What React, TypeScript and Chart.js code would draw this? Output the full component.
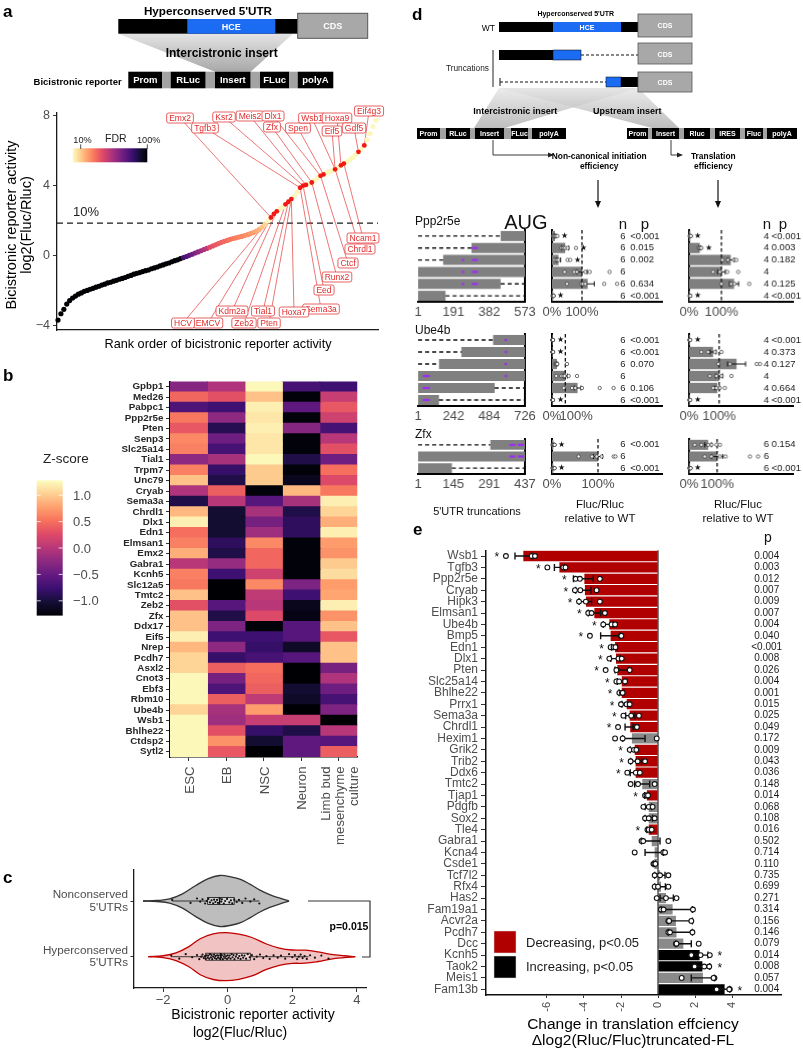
import React, { useEffect, useRef } from 'react';
import { Chart, registerables } from 'chart.js';

Chart.register(...registerables);

const FONT = '"Liberation Sans", Arial, Helvetica, sans-serif';
const AX = '#4d4d4d';

// ================= Panel a data =================
const rankActivity = [
  -3.66, -3.30, -3.05, -2.75, -2.55, -2.40, -2.29, -2.18, -2.11, -2.02,
  -1.97, -1.90, -1.85, -1.78, -1.73, -1.66, -1.61, -1.54, -1.50, -1.44,
  -1.39, -1.33, -1.28, -1.23, -1.16, -1.11, -1.04, -0.99, -0.95, -0.89,
  -0.84, -0.80, -0.73, -0.68, -0.63, -0.56, -0.51, -0.45, -0.40, -0.33,
  -0.27, -0.22, -0.15, -0.09, -0.03, 0.04, 0.10, 0.17, 0.23, 0.30,
  0.37, 0.43, 0.50, 0.57, 0.64, 0.71, 0.78, 0.84, 0.89, 0.95,
  1.00, 1.04, 1.08, 1.12, 1.17, 1.22, 1.28, 1.34, 1.42, 1.52,
  1.65, 1.82, 2.00, 2.20, 2.40, 2.55, 2.68, 2.80, 2.95, 3.10,
  3.25, 3.42, 3.65, 3.90, 4.02, 4.06, 4.12, 4.20, 4.32, 4.48,
  4.58, 4.66, 4.75, 4.82, 4.88, 4.95, 5.05, 5.18, 5.28, 5.38,
  5.50, 5.62, 5.78, 5.95, 6.10, 6.32, 6.65, 7.00, 7.40, 7.75,
];
const fdrThreshold = 1.88;
const aYTicks = [-4, 0, 4, 8];
const labelGenes = ['Emx2', 'Tgfb3', 'Ksr2', 'Meis2', 'Zfx', 'Dlx1', 'Spen', 'Wsb1', 'Eif5', 'Hoxa9', 'Gdf5', 'Eif4g3',
  'Ncam1', 'Chrdl1', 'Ctcf', 'Runx2', 'Eed', 'Sema3a', 'Hoxa7', 'Pten', 'Tial1', 'Zeb2', 'Kdm2a', 'EMCV', 'HCV'];
const labelRanks = [74, 84, 85, 86, 88, 91, 92, 96, 96, 98, 104, 106, 99, 96, 91, 88, 85, 84, 81, 81, 80, 79, 76, 75, 74];
// layout of the label boxes (page pixels)
const labelPos = [[180, 118], [205, 128], [224, 117], [250, 116], [272, 127], [273, 116], [298, 128], [312, 118], [332, 131],
  [337, 118], [354, 128], [369, 111], [363, 238], [360, 249], [348, 263], [337, 277], [324, 290], [321, 309], [294, 312],
  [269, 323], [263, 311], [244, 323], [232, 311], [208, 323], [183, 323]];

// ================= Panel b data =================
const heatGenes = ['Gpbp1', 'Med26', 'Pabpc1', 'Ppp2r5e', 'Pten', 'Senp3', 'Slc25a14', 'Tial1', 'Trpm7', 'Unc79', 'Cryab',
  'Sema3a', 'Chrdl1', 'Dlx1', 'Edn1', 'Elmsan1', 'Emx2', 'Gabra1', 'Kcnh5', 'Slc12a5', 'Tmtc2', 'Zeb2', 'Zfx', 'Ddx17',
  'Eif5', 'Nrep', 'Pcdh7', 'Asxl2', 'Cnot3', 'Ebf3', 'Rbm10', 'Ube4b', 'Wsb1', 'Bhlhe22', 'Ctdsp2', 'Sytl2'];
const cellTypes = ['ESC', 'EB', 'NSC', 'Neuron', 'Limb bud mesenchyme culture'];
const zESC = [-0.3, 0.45, -0.65, 0.55, 0.35, 0.65, 0.6, -0.25, 0.6, 0.95, -0.05, -0.95, 0.9, 1.2, 0.5, 0.6, 0.85, 0.0,
  0.6, 0.55, 0.95, 0.3, 0.95, 0.95, 1.2, 0.9, 1.05, 1.05, 1.25, 1.25, 1.25, 1.05, 1.25, 1.25, 1.25, 1.25];
const zEB = [-0.05, 0.3, -0.75, -0.25, -0.9, -0.45, -0.7, -0.1, -0.8, -0.95, 0.4, 0.0, -1.05, -1.05, -1.05, -0.85, -0.95,
  -0.2, -0.75, -1.28, -1.28, -0.6, -0.95, -0.35, -0.75, -0.25, -0.8, 0.4, -0.4, -0.65, 0.4, -0.1, -0.15, 0.3, 0.7, 0.35];
const zNSC = [1.25, 0.95, 1.2, 1.15, 1.2, 1.15, 1.15, 1.25, 1.0, 1.0, -1.25, -0.6, -0.1, -0.4, -0.15, 0.65, 0.45, 0.45,
  0.15, 0.65, 0.05, 0.0, 0.25, -1.25, -0.75, -0.8, -0.7, 0.5, 0.45, 0.4, 0.05, 0.75, 0.1, -0.8, -1.05, -1.28];
const zNeuron = [-0.7, -1.25, -0.55, -1.25, -0.3, -1.25, -1.25, -0.95, -1.25, -1.15, 0.9, -0.1, -0.95, -0.85, -0.85, -1.25,
  -1.25, -1.25, -1.25, -0.35, -0.75, -1.15, -1.2, -0.6, -0.6, -1.1, -0.6, -1.28, -1.28, -1.05, -1.1, -1.28, 0.1, -0.95, -0.55, -0.55];
const zLimb = [-0.75, 0.1, 0.35, 0.15, -0.7, 0.0, 0.3, -0.45, 0.5, 0.25, 0.55, 1.2, 1.05, 0.85, 1.2, 0.75, 0.7, 1.0, 1.1,
  0.75, 0.8, 1.2, 0.7, 0.95, 0.35, 0.95, 0.95, -0.4, -0.05, -0.45, -0.7, -0.35, -1.28, 0.0, -0.6, 0.4];
const zLegendTicks = [1.0, 0.5, 0.0, -0.5, -1.0];

// ================= Panel c data =================
const cGroups = ['Hyperconserved', 'Nonconserved'];
const nonViolinX = [-2.62, -2.2, -1.8, -1.4, -1.0, -0.6, -0.25, 0.1, 0.4, 0.7, 1.0, 1.3, 1.6, 1.9];
const nonViolinW = [0, 0.02, 0.08, 0.28, 0.6, 0.88, 1.0, 0.95, 0.85, 0.65, 0.43, 0.25, 0.12, 0];
const hypViolinX = [-2.46, -2.0, -1.6, -1.2, -0.85, -0.45, -0.05, 0.35, 0.75, 1.2, 1.6, 2.0, 2.4, 2.8, 3.2, 3.6, 3.95];
const hypViolinW = [0, 0.04, 0.16, 0.42, 0.75, 0.95, 1.0, 0.94, 0.8, 0.53, 0.36, 0.28, 0.27, 0.2, 0.1, 0.04, 0];
const nonPointsX = [-1.72, -1.15, -0.95, -0.85, -0.78, -0.70, -0.65, -0.6, -0.55, -0.5, -0.45, -0.42, -0.38, -0.33, -0.3,
  -0.25, -0.2, -0.18, -0.12, -0.08, -0.02, 0.05, 0.1, 0.14, 0.2, 0.28, 0.35, 0.45, 0.55, 0.7, 0.82, 0.98];
const hypPointsX = [-1.75, -1.5, -1.3, -1.1, -0.95, -0.88, -0.82, -0.78, -0.74, -0.7, -0.68, -0.65, -0.62, -0.6, -0.57,
  -0.55, -0.52, -0.5, -0.48, -0.45, -0.42, -0.4, -0.38, -0.35, -0.33, -0.3, -0.28, -0.25, -0.22, -0.2, -0.18, -0.15,
  -0.12, -0.1, -0.08, -0.05, -0.02, 0.0, 0.03, 0.06, 0.09, 0.12, 0.15, 0.18, 0.21, 0.25, 0.28, 0.32, 0.36, 0.4, 0.44,
  0.48, 0.52, 0.57, 0.62, 0.68, 0.75, 0.82, 0.9, 1.0, 1.1, 1.2, 1.3, 1.42, 1.55, 1.65, 1.78, 1.9, 2.0, 2.08, 2.15,
  2.2, 2.26, 2.32, 2.38, 2.45, 2.55, 2.7, 2.9, 3.12];
const jitterOffsets = [0.02, -0.035, 0.045, -0.01, 0.03, -0.045, 0.0, 0.038, -0.025, 0.012, -0.04, 0.025, -0.018];
const nonBox = [-1.72, -0.62, -0.25, 0.2, 0.98];
const hypBox = [-1.75, -0.68, -0.22, 0.7, 2.5];
const cXTicks = [-2, 0, 2, 4];

// ================= Panel d data =================
const ppp2r5eStart = [443, 287, 135, 1, 1, 1];
const ppp2r5eEnd = [573, 573, 573, 573, 443, 148];
const ppp2r5eAug = [241, 305];
const ppp2r5eAugSize = [1.2, 3];
const ppp2r5eTicks = [1, 191, 382, 573];
const ppp2r5eFlucMean = [10, 44, 22, 100, 119, 4];
const ppp2r5eFlucSem = [3, 12, 7, 17, 22, 1];
const ppp2r5eFlucPts = [[3, 6, 8, 11, 14, 18], [31, 36, 39, 44, 52, 80], [8, 14, 17, 22, 52, 61], [42, 74, 83, 111, 126, 192],
  [50, 98, 103, 111, 174, 217], [2, 3, 4, 4, 5, 6]];
const ppp2r5eFlucStar = [1, 1, 1, 0, 0, 1];
const ppp2r5eFlucN = [6, 6, 6, 6, 6, 6];
const ppp2r5eFlucP = ['<0.001', '0.015', '0.002', '', '0.634', '<0.001'];
const ppp2r5eRlucMean = [4, 33, 129, 100, 139, 3];
const ppp2r5eRlucSem = [1, 3, 10, 12, 14, 1];
const ppp2r5eRlucPts = [[2, 3, 4, 6], [30, 32, 35, 38], [103, 120, 139, 146], [74, 95, 118, 152], [100, 130, 140, 186], [2, 3, 3, 4]];
const ppp2r5eRlucStar = [1, 1, 0, 0, 0, 1];
const ppp2r5eRlucN = [4, 4, 4, 4, 4, 4];
const ppp2r5eRlucP = ['<0.001', '0.003', '0.182', '', '0.125', '<0.001'];

const ube4bStart = [510, 295, 143, 1, 1, 1];
const ube4bEnd = [726, 726, 726, 726, 521, 143];
const ube4bAug = [57, 596];
const ube4bAugSize = [3.5, 1.2];
const ube4bTicks = [1, 242, 484, 726];
const ube4bFlucMean = [5, 5, 37, 100, 192, 5];
const ube4bFlucSem = [1, 1, 6, 15, 25, 1];
const ube4bFlucPts = [[2, 4, 5, 6, 7, 8], [3, 4, 5, 6, 7, 9], [22, 30, 34, 37, 40, 112], [32, 70, 85, 95, 125, 188],
  [88, 150, 175, 225, 358, 462], [2, 4, 5, 6, 7, 8]];
const ube4bFlucStar = [1, 1, 0, 0, 0, 1];
const ube4bFlucN = [6, 6, 6, 6, 6, 6];
const ube4bFlucP = ['<0.001', '<0.001', '0.070', '', '0.106', '<0.001'];
const ube4bRlucMean = [3, 80, 158, 100, 94, 3];
const ube4bRlucSem = [1, 10, 30, 12, 8, 1];
const ube4bRlucPts = [[1, 2, 3, 4], [41, 63, 86, 108], [97, 136, 225, 236], [69, 91, 108, 141], [80, 91, 102, 119], [1, 2, 3, 4]];
const ube4bRlucStar = [1, 0, 0, 0, 0, 1];
const ube4bRlucN = [4, 4, 4, 4, 4, 4];
const ube4bRlucP = ['<0.001', '0.373', '0.127', '', '0.664', '<0.001'];

const zfxStart = [296, 1, 1];
const zfxEnd = [437, 437, 139];
const zfxAug = [386, 420];
const zfxAugSize = [3, 3];
const zfxTicks = [1, 145, 291, 437];
const zfxFlucMean = [3, 100, 3];
const zfxFlucSem = [1, 10, 1];
const zfxFlucPts = [[1, 2, 3, 4, 5, 6], [58, 87, 97, 108, 134, 138], [1, 2, 3, 4, 5, 6]];
const zfxFlucStar = [1, 0, 1];
const zfxFlucN = [6, 6, 6];
const zfxFlucP = ['<0.001', '', '<0.001'];
const zfxRlucMean = [68, 100, 3];
const zfxRlucSem = [12, 20, 1];
const zfxRlucPts = [[20, 44, 68, 80, 98, 110], [56, 80, 110, 130, 217, 246], [1, 2, 3, 4, 5, 6]];
const zfxRlucStar = [0, 0, 1];
const zfxRlucN = [6, 6, 6];
const zfxRlucP = ['0.154', '', '<0.001'];

// ================= Panel e data =================
const teGenes = ['Wsb1', 'Tgfb3', 'Ppp2r5e', 'Cryab', 'Hipk3', 'Elmsan1', 'Ube4b', 'Bmp5', 'Edn1', 'Dlx1', 'Pten', 'Slc25a14',
  'Bhlhe22', 'Prrx1', 'Sema3a', 'Chrdl1', 'Hexim1', 'Grik2', 'Trib2', 'Ddx6', 'Tmtc2', 'Tjap1', 'Pdgfb', 'Sox2', 'Tle4',
  'Gabra1', 'Kcna4', 'Csde1', 'Tcf7l2', 'Rfx4', 'Has2', 'Fam19a1', 'Acvr2a', 'Pcdh7', 'Dcc', 'Kcnh5', 'Taok2', 'Meis1', 'Fam13b'];
const teMean = [-7.28, -5.33, -3.98, -3.95, -3.89, -3.44, -2.63, -2.56, -2.32, -2.27, -2.2, -1.96, -1.96, -1.69, -1.53,
  -1.5, -1.41, -1.26, -1.21, -1.21, -0.85, -0.6, -0.5, -0.5, -0.5, -0.34, -0.18, -0.2, 0.11, 0.16, 0.43, 0.79, 0.97,
  1.0, 1.37, 2.25, 2.4, 2.43, 3.6];
const teErrLo = [-7.73, -5.6, -4.57, -4.45, -4.27, -3.77, -2.96, -3.1, -2.5, -2.55, -2.32, -2.2, -2.1, -1.95, -1.75,
  -1.78, -1.91, -1.5, -1.48, -1.5, -1.26, -0.72, -0.7, -0.7, -0.6, -0.89, -0.7, -0.25, -0.18, -0.18, 0.11, 0.16, 0.56,
  0.56, 0.97, 1.8, 1.98, 1.8, 3.35];
const teErrHi = [-6.83, -5.05, -3.5, -3.62, -3.59, -3.1, -2.4, -2.05, -2.2, -2.05, -1.57, -1.8, -1.85, -1.5, -1.25,
  -1.35, -0.7, -1.1, -0.89, -1.0, -0.45, -0.5, -0.35, -0.3, -0.4, 0.11, 0.29, -0.14, 0.38, 0.4, 0.83, 1.86, 1.86,
  1.86, 1.8, 2.7, 2.8, 3.05, 3.88];
const tePts = [[-8.22, -6.83, -6.65], [-5.98, -5.12, -5.0], [-4.45, -4.22, -3.14], [-4.49, -4.2, -3.32], [-4.27, -3.9, -3.14],
  [-3.77, -3.59, -2.87], [-2.96, -2.51, -2.32], [-3.68, -2.02, -1.98], [-2.56, -2.4, -2.3], [-2.63, -2.14, -1.96],
  [-2.83, -2.25, -1.53], [-2.25, -2.1, -1.78], [-2.09, -1.95, -1.91], [-2.0, -1.7, -1.53], [-1.87, -1.45, -1.03],
  [-2.16, -1.2, -1.14], [-2.32, -1.91, -0.07], [-1.53, -1.3, -1.17], [-1.48, -1.1, -0.7], [-1.66, -1.2, -0.98],
  [-1.48, -1.08, -0.18], [-0.7, -0.62, -0.54], [-0.79, -0.5, -0.29], [-0.7, -0.5, -0.18], [-0.57, -0.5, -0.34],
  [-0.89, -0.8, 0.56], [-1.26, 0.29, 0.38], [-0.25, -0.2, -0.14], [-0.18, 0.11, 0.56], [-0.18, 0.0, 0.56],
  [-0.07, 0.43, 1.0], [0.16, 0.3, 1.89], [0.56, 0.6, 1.8], [0.56, 0.65, 1.86], [0.97, 1.0, 2.2], [1.8, 2.3, 2.8],
  [1.98, 2.5, 2.77], [1.28, 3.05, 3.0], [3.17, 3.88, 3.85]];
const teSig = ['dec', 'dec', 'dec', 'dec', 'dec', 'dec', 'dec', 'dec', 'dec', 'dec', 'dec', 'dec', 'dec', 'dec', 'dec', 'dec',
  'ns', 'dec', 'dec', 'dec', 'ns', 'dec', 'ns', 'ns', 'dec', 'ns', 'ns', 'ns', 'ns', 'ns', 'ns', 'ns', 'ns', 'ns', 'ns',
  'inc', 'inc', 'ns', 'inc'];
const teP = ['0.004', '0.003', '0.012', '0.007', '0.009', '0.007', '0.004', '0.040', '<0.001', '0.008', '0.026', '0.004',
  '0.001', '0.015', '0.025', '0.049', '0.172', '0.009', '0.043', '0.036', '0.148', '0.014', '0.068', '0.108', '0.016',
  '0.502', '0.714', '0.110', '0.735', '0.699', '0.271', '0.314', '0.156', '0.146', '0.079', '0.014', '0.008', '0.057', '0.004'];
const teXTicks = [-6, -4, -2, 0, 2, 4];
const SIG_COLOR: any = { dec: '#b00000', inc: '#000000', ns: '#8a8a8a' };

// ================= helpers =================
const MAGMA = ['#000004', '#140e36', '#3b0f70', '#641a80', '#8c2981', '#b73779', '#de4968', '#f7705c', '#fe9f6d', '#fecf92', '#fcfdbf'];
function hexToRgb(h: string) {
  const n = parseInt(h.slice(1), 16);
  return [(n >> 16) & 255, (n >> 8) & 255, n & 255];
}
function magma(t: number) {
  const tt = Math.max(0, Math.min(1, t)) * 10;
  const i = Math.min(9, Math.floor(tt));
  const f = tt - i;
  const a = hexToRgb(MAGMA[i]);
  const b = hexToRgb(MAGMA[i + 1]);
  const c = a.map((v, k) => Math.round(v + (b[k] - v) * f));
  return `rgb(${c[0]},${c[1]},${c[2]})`;
}
const zColor = (z: number) => magma((z + 1.28) / 2.56);
function fdrColor(v: number) {
  if (v >= 1.85) return '#fcf8bc';
  if (v <= -0.15) return '#000004';
  if (v < 0.5) return magma(0.18 + ((v + 0.15) / 0.65) * 0.37);
  return magma(0.6 + ((v - 0.5) / 1.35) * 0.32);
}
const withMinus = (v: number) => (v < 0 ? '\u2212' + Math.abs(v) : String(v));

type Area = { l: number; t: number; r: number; b: number };
function frame(cx: number, cy: number, cw: number, ch: number, a: Area, yRight = false) {
  const yW = yRight ? cx + cw - a.r : a.l - cx;
  const xH = cy + ch - a.b;
  return {
    padding: { left: yRight ? a.l - cx : 0, right: yRight ? 0 : cx + cw - a.r, top: a.t - cy, bottom: 0 },
    fitY: (s: any) => { s.width = yW; s.paddingTop = 0; s.paddingBottom = 0; s.paddingLeft = 0; s.paddingRight = 0; },
    fitX: (s: any) => { s.height = xH; s.paddingLeft = 0; s.paddingRight = 0; s.paddingTop = 0; s.paddingBottom = 0; },
  };
}
function baseOpts(padding: any) {
  return {
    responsive: false,
    animation: false,
    devicePixelRatio: 1,
    events: [],
    layout: { padding, autoPadding: false },
    plugins: { legend: { display: false }, tooltip: { enabled: false }, filler: { drawTime: 'beforeDatasetsDraw' } },
  };
}
const fixTicks = (vals: number[]) => (s: any) => { s.ticks = vals.map((v) => ({ value: v })); };

type Spec = { x: number; y: number; w: number; h: number; make: () => any };

// ================= Panel a chart =================
function specA(): Spec {
  const cx = 0, cy = 100, cw = 392, ch = 250;
  const area = { l: 57, t: 113, r: 378, b: 330 };
  const f = frame(cx, cy, cw, ch, area);
  const base = rankActivity.map((v, i) => ({ x: i + 1, y: v }));
  const uniq = Array.from(new Set(labelRanks)).sort((p, q) => p - q);
  const red = uniq.map((r) => ({ x: r, y: rankActivity[r - 1] }));
  const plugin = {
    id: 'panelA',
    beforeDatasetsDraw(chart: any) {
      const { ctx, chartArea: a, scales: { x, y } } = chart;
      ctx.save();
      const ty = y.getPixelForValue(fdrThreshold);
      ctx.setLineDash([6, 4]);
      ctx.strokeStyle = '#1a1a1a';
      ctx.lineWidth = 1.3;
      ctx.beginPath(); ctx.moveTo(a.left, ty); ctx.lineTo(a.right, ty); ctx.stroke();
      ctx.setLineDash([]);
      ctx.strokeStyle = '#e23b3b';
      ctx.lineWidth = 0.7;
      labelGenes.forEach((g, i) => {
        const r = labelRanks[i];
        ctx.beginPath();
        ctx.moveTo(labelPos[i][0] - cx, labelPos[i][1] - cy);
        ctx.lineTo(x.getPixelForValue(r), y.getPixelForValue(rankActivity[r - 1]));
        ctx.stroke();
      });
      ctx.restore();
    },
    afterDraw(chart: any) {
      const { ctx } = chart;
      ctx.save();
      ctx.font = `8.5px ${FONT}`;
      ctx.textAlign = 'center';
      ctx.textBaseline = 'middle';
      labelGenes.forEach((g, i) => {
        const px = labelPos[i][0] - cx, py = labelPos[i][1] - cy;
        const w = ctx.measureText(g).width + 5, h = 10;
        ctx.beginPath();
        ctx.roundRect(px - w / 2, py - h / 2, w, h, 2);
        ctx.fillStyle = '#fff'; ctx.fill();
        ctx.strokeStyle = '#e23b3b'; ctx.lineWidth = 0.8; ctx.stroke();
        ctx.fillStyle = '#e02a2a';
        ctx.fillText(g, px, py + 0.5);
      });
      ctx.restore();
    },
  };
  return {
    x: cx, y: cy, w: cw, h: ch,
    make: () => ({
      type: 'scatter',
      data: {
        datasets: [
          { data: red, pointRadius: 2.4, pointBackgroundColor: '#f01818', pointBorderWidth: 0, clip: false },
          { data: base, pointRadius: 2.6, pointBackgroundColor: base.map((p) => fdrColor(p.y)), pointBorderWidth: 0, clip: false },
        ],
      },
      options: {
        ...baseOpts(f.padding),
        scales: {
          x: { type: 'linear', min: 0.657, max: 110.7, afterFit: f.fitX, ticks: { display: false },
            grid: { display: false, drawTicks: false }, border: { display: true, color: '#1a1a1a', width: 1.3 } },
          y: { type: 'linear', min: -4.229, max: 8.171, afterFit: f.fitY, afterBuildTicks: fixTicks(aYTicks),
            ticks: { callback: (v: number) => withMinus(v), color: AX, font: { family: FONT, size: 12.5 }, padding: 3 },
            grid: { drawOnChartArea: false, drawTicks: true, tickLength: 4, color: '#333' },
            border: { display: true, color: '#1a1a1a', width: 1.3 } },
        },
      },
      plugins: [plugin],
    }),
  };
}

// ================= Panel b chart =================
function specB(): Spec {
  const cx = 90, cy = 376, cw = 280, ch = 388;
  const area = { l: 170, t: 381.5, r: 357.3, b: 757 };
  const f = frame(cx, cy, cw, ch, area);
  const cols = [zESC, zEB, zNSC, zNeuron, zLimb];
  return {
    x: cx, y: cy, w: cw, h: ch,
    make: () => ({
      type: 'bar',
      data: {
        labels: heatGenes,
        datasets: cols.map((col, j) => ({
          label: cellTypes[j], data: col.map(() => 1), backgroundColor: col.map(zColor),
          borderWidth: 0, barPercentage: 1, categoryPercentage: 1, inflateAmount: 0.5,
        })),
      },
      options: {
        ...baseOpts(f.padding),
        indexAxis: 'y',
        scales: {
          x: { type: 'linear', stacked: true, min: 0, max: 5, afterFit: f.fitX, afterBuildTicks: fixTicks([0.5, 1.5, 2.5, 3.5, 4.5]),
            ticks: { display: false }, grid: { drawOnChartArea: false, drawTicks: true, tickLength: 4, color: '#333' },
            border: { display: true, color: '#000', width: 1.6 } },
          y: { type: 'category', stacked: true, offset: true, afterFit: f.fitY,
            ticks: { autoSkip: false, color: '#262626', font: { family: FONT, size: 9.8, weight: 'bold' }, padding: 2.5 },
            grid: { offset: false, drawOnChartArea: false, drawTicks: true, tickLength: 4, color: '#333' },
            border: { display: true, color: '#000', width: 1.6 } },
        },
      },
    }),
  };
}

// ================= Panel c chart =================
function specC(): Spec {
  const cx = 0, cy = 862, cw = 384, ch = 151;
  const area = { l: 134, t: 870, r: 366, b: 988 };
  const f = frame(cx, cy, cw, ch, area);
  const outline = (xs: number[], ws: number[], c: number, half: number, sign: number) =>
    xs.map((v, i) => ({ x: v, y: c + sign * ws[i] * half }));
  const nonPts = nonPointsX.map((v, i) => ({ x: v, y: 2 + jitterOffsets[i % jitterOffsets.length] }));
  const hypPts = hypPointsX.map((v, i) => ({ x: v, y: 1 + jitterOffsets[i % jitterOffsets.length] }));
  const drawBox = (ctx: any, x: any, y: any, st: number[], c: number) => {
    const yy = y.getPixelForValue(c);
    ctx.strokeStyle = '#111'; ctx.lineWidth = 0.8;
    ctx.beginPath();
    ctx.moveTo(x.getPixelForValue(st[0]), yy); ctx.lineTo(x.getPixelForValue(st[1]), yy);
    ctx.moveTo(x.getPixelForValue(st[3]), yy); ctx.lineTo(x.getPixelForValue(st[4]), yy);
    ctx.stroke();
    const l = x.getPixelForValue(st[1]), r = x.getPixelForValue(st[3]);
    ctx.fillStyle = 'rgba(255,255,255,0.35)';
    ctx.fillRect(l, yy - 3.5, r - l, 7);
    ctx.strokeRect(l, yy - 3.5, r - l, 7);
    const m = x.getPixelForValue(st[2]);
    ctx.lineWidth = 1.4;
    ctx.beginPath(); ctx.moveTo(m, yy - 3.5); ctx.lineTo(m, yy + 3.5); ctx.stroke();
  };
  const plugin = {
    id: 'panelC',
    afterDatasetDraw(chart: any, args: any) {
      if (args.index !== 2) return;
      const { ctx, scales: { x, y } } = chart;
      ctx.save();
      drawBox(ctx, x, y, nonBox, 2);
      drawBox(ctx, x, y, hypBox, 1);
      ctx.restore();
    },
  };
  const lineDs = (data: any[], color: string, fill: any, bg: string) => ({
    type: 'line', data, borderColor: color, borderWidth: 1.3, backgroundColor: bg, fill, pointRadius: 0, tension: 0.4, clip: false,
  });
  return {
    x: cx, y: cy, w: cw, h: ch,
    make: () => ({
      type: 'scatter',
      data: {
        datasets: [
          { type: 'scatter', data: nonPts, pointRadius: 1.1, pointBackgroundColor: '#111', pointBorderWidth: 0 },
          { type: 'scatter', data: hypPts, pointRadius: 1.1, pointBackgroundColor: '#111', pointBorderWidth: 0 },
          lineDs(outline(nonViolinX, nonViolinW, 2, 0.458, 1), '#333', '+1', '#bdbdbd'),
          lineDs(outline(nonViolinX, nonViolinW, 2, 0.458, -1), '#333', false, '#bdbdbd'),
          lineDs(outline(hypViolinX, hypViolinW, 1, 0.431, 1), '#c00000', '+1', '#f1c3c3'),
          lineDs(outline(hypViolinX, hypViolinW, 1, 0.431, -1), '#c00000', false, '#f1c3c3'),
        ],
      },
      options: {
        ...baseOpts(f.padding),
        scales: {
          x: { type: 'linear', min: -2.901, max: 4.282, afterFit: f.fitX, afterBuildTicks: fixTicks(cXTicks),
            ticks: { callback: (v: number) => withMinus(v), color: AX, font: { family: FONT, size: 13 }, padding: 1 },
            grid: { drawOnChartArea: false, drawTicks: true, tickLength: 4, color: '#333' },
            border: { display: true, color: '#1a1a1a', width: 1.3 } },
          y: { type: 'linear', min: 0.438, max: 2.557, afterFit: f.fitY, afterBuildTicks: fixTicks([1, 2]),
            ticks: { callback: (v: number) => [v === 2 ? cGroups[1] : cGroups[0], "5'UTRs"], color: AX,
              font: { family: FONT, size: 11.7, lineHeight: 1.08 }, padding: 2.5 },
            grid: { drawOnChartArea: false, drawTicks: true, tickLength: 3.5, color: '#333' },
            border: { display: true, color: '#1a1a1a', width: 1.3 } },
        },
      },
      plugins: [plugin],
    }),
  };
}

// ================= Panel d charts =================
const dGroups = [
  { gene: 'Ppp2r5e', len: 573, start: ppp2r5eStart, end: ppp2r5eEnd, aug: ppp2r5eAug, augSize: ppp2r5eAugSize, ticks: ppp2r5eTicks,
    fluc: { mean: ppp2r5eFlucMean, sem: ppp2r5eFlucSem, pts: ppp2r5eFlucPts, star: ppp2r5eFlucStar, n: ppp2r5eFlucN, p: ppp2r5eFlucP },
    rluc: { mean: ppp2r5eRlucMean, sem: ppp2r5eRlucSem, pts: ppp2r5eRlucPts, star: ppp2r5eRlucStar, n: ppp2r5eRlucN, p: ppp2r5eRlucP },
    t: 230, b: 301.7, gap: 10, flucPx: 30, rlucPx: 32.3, hundred: '100%' },
  { gene: 'Ube4b', len: 726, start: ube4bStart, end: ube4bEnd, aug: ube4bAug, augSize: ube4bAugSize, ticks: ube4bTicks,
    fluc: { mean: ube4bFlucMean, sem: ube4bFlucSem, pts: ube4bFlucPts, star: ube4bFlucStar, n: ube4bFlucN, p: ube4bFlucP },
    rluc: { mean: ube4bRlucMean, sem: ube4bRlucSem, pts: ube4bRlucPts, star: ube4bRlucStar, n: ube4bRlucN, p: ube4bRlucP },
    t: 334.2, b: 406.3, gap: 10.4, flucPx: 13.33, rlucPx: 30, hundred: '      100%' },
  { gene: 'Zfx', len: 437, start: zfxStart, end: zfxEnd, aug: zfxAug, augSize: zfxAugSize, ticks: zfxTicks,
    fluc: { mean: zfxFlucMean, sem: zfxFlucSem, pts: zfxFlucPts, star: zfxFlucStar, n: zfxFlucN, p: zfxFlucP },
    rluc: { mean: zfxRlucMean, sem: zfxRlucSem, pts: zfxRlucPts, star: zfxRlucStar, n: zfxRlucN, p: zfxRlucP },
    t: 439.2, b: 474.4, gap: 10.7, flucPx: 46, rlucPx: 28, hundred: '100%' },
];
const COL_TRUNC = { l: 418.3, r: 525 };
const COL_FLUC = { l: 551.7, r: 661.7 };
const COL_RLUC = { l: 689.3, r: 793 };

function truncSpec(g: any): Spec {
  const area = { l: COL_TRUNC.l, t: g.t, r: COL_TRUNC.r, b: g.b };
  const cx = area.l - 8, cy = area.t - 3, cw = area.r + 14 - cx, ch = area.b + 22 - cy;
  const f = frame(cx, cy, cw, ch, area, true);
  const rows = g.start.map((_: any, i: number) => 'r' + i);
  const marks: any[] = [];
  const markR: number[] = [];
  g.aug.forEach((m: number, k: number) => rows.forEach((r: string, i: number) => {
    if (m >= g.start[i] && m <= g.end[i]) { marks.push({ x: m, y: r }); markR.push(g.augSize[k]); }
  }));
  const plugin = {
    id: 'trunc',
    afterDatasetsDraw(chart: any) {
      const { ctx, scales: { x, y } } = chart;
      ctx.save();
      ctx.setLineDash([4, 3]); ctx.strokeStyle = '#111'; ctx.lineWidth = 1.3;
      g.start.forEach((s: number, i: number) => {
        const yy = y.getPixelForValue(i);
        ctx.beginPath();
        if (s > 1) { ctx.moveTo(x.getPixelForValue(1), yy); ctx.lineTo(x.getPixelForValue(s), yy); }
        if (g.end[i] < g.len) { ctx.moveTo(x.getPixelForValue(g.end[i]), yy); ctx.lineTo(x.getPixelForValue(g.len), yy); }
        ctx.stroke();
      });
      ctx.restore();
    },
  };
  return {
    x: cx, y: cy, w: cw, h: ch,
    make: () => ({
      type: 'bar',
      data: {
        labels: rows,
        datasets: [
          { type: 'scatter', data: marks, pointStyle: 'line', pointRadius: markR, pointBorderColor: '#9d2cf5', pointBorderWidth: 2.2, clip: false },
          { type: 'bar', data: g.start.map((s: number, i: number) => [s, g.end[i]]), backgroundColor: '#808080',
            barPercentage: 0.84, categoryPercentage: 1, borderWidth: 0 },
        ],
      },
      options: {
        ...baseOpts(f.padding),
        indexAxis: 'y',
        scales: {
          x: { type: 'linear', min: 1, max: g.len, afterFit: f.fitX, afterBuildTicks: fixTicks(g.ticks),
            ticks: { autoSkip: false, maxRotation: 0, color: AX, font: { family: FONT, size: 13 }, padding: g.gap - 7.8 },
            grid: { display: false, drawTicks: false }, border: { display: true, color: '#000', width: 2 } },
          y: { type: 'category', position: 'right', offset: true, afterFit: f.fitY, ticks: { display: false },
            grid: { display: false, drawTicks: false }, border: { display: true, color: '#000', width: 2 } },
        },
      },
      plugins: [plugin],
    }),
  };
}

function valSpec(v: any, col: any, g: any, pxPer100: number, nOff: number, pOff: number, hundred: string): Spec {
  const area = { l: col.l, t: g.t, r: col.r, b: g.b };
  const cx = area.l - 12, cy = area.t - 3, cw = area.r + 12 - cx, ch = area.b + 22 - cy;
  const f = frame(cx, cy, cw, ch, area);
  const rows = v.mean.map((_: any, i: number) => 'r' + i);
  const pts: any[] = [];
  v.pts.forEach((arr: number[], i: number) => arr.forEach((val) => pts.push({ x: val, y: rows[i] })));
  const max = ((area.r - area.l) / pxPer100) * 100;
  const plugin = {
    id: 'val',
    afterDatasetDraw(chart: any, args: any) {
      if (args.index !== 1) return;
      const { ctx, chartArea: a, scales: { x, y } } = chart;
      ctx.save();
      const px = x.getPixelForValue(100);
      ctx.setLineDash([3.5, 2.5]); ctx.strokeStyle = '#111'; ctx.lineWidth = 1.3;
      ctx.beginPath(); ctx.moveTo(px, a.top); ctx.lineTo(px, a.bottom); ctx.stroke();
      ctx.setLineDash([]);
      ctx.strokeStyle = '#111'; ctx.lineWidth = 1;
      v.mean.forEach((m: number, i: number) => {
        if (v.sem[i] < 2) return;
        const yy = y.getPixelForValue(i);
        const lo = x.getPixelForValue(Math.max(0, m - v.sem[i])), hi = x.getPixelForValue(m + v.sem[i]);
        ctx.beginPath();
        ctx.moveTo(lo, yy); ctx.lineTo(hi, yy);
        ctx.moveTo(lo, yy - 2.5); ctx.lineTo(lo, yy + 2.5);
        ctx.moveTo(hi, yy - 2.5); ctx.lineTo(hi, yy + 2.5);
        ctx.stroke();
      });
      ctx.restore();
    },
    afterDatasetsDraw(chart: any) {
      const { ctx, chartArea: a, scales: { x, y } } = chart;
      ctx.save();
      ctx.textBaseline = 'middle';
      v.mean.forEach((m: number, i: number) => {
        const yy = y.getPixelForValue(i);
        if (v.star[i]) {
          const mx = Math.max(m + v.sem[i], ...v.pts[i]);
          ctx.fillStyle = '#111'; ctx.font = `8px ${FONT}`; ctx.textAlign = 'center';
          ctx.fillText('\u2605', x.getPixelForValue(mx) + 7, yy);
        }
        ctx.fillStyle = '#1a1a1a'; ctx.font = `9.5px ${FONT}`;
        ctx.textAlign = 'center';
        ctx.fillText(String(v.n[i]), a.right - nOff, yy);
        if (v.p[i]) { ctx.textAlign = 'left'; ctx.fillText(v.p[i], a.right - pOff, yy); }
      });
      ctx.restore();
    },
  };
  return {
    x: cx, y: cy, w: cw, h: ch,
    make: () => ({
      type: 'bar',
      data: {
        labels: rows,
        datasets: [
          { type: 'scatter', data: pts, pointRadius: 1.7, pointBackgroundColor: 'rgba(255,255,255,0.85)', pointBorderColor: '#333', pointBorderWidth: 0.7, clip: false },
          { type: 'bar', data: v.mean, backgroundColor: '#7f7f7f', barPercentage: 0.86, categoryPercentage: 1, borderWidth: 0 },
        ],
      },
      options: {
        ...baseOpts(f.padding),
        indexAxis: 'y',
        scales: {
          x: { type: 'linear', min: 0, max, afterFit: f.fitX, afterBuildTicks: fixTicks([0, 100]),
            ticks: { autoSkip: false, maxRotation: 0, callback: (val: number) => (val === 0 ? '0%' : hundred), color: AX,
              font: { family: FONT, size: 13 }, padding: g.gap - 7.8 },
            grid: { display: false, drawTicks: false }, border: { display: true, color: '#000', width: 2 } },
          y: { type: 'category', offset: true, afterFit: f.fitY, ticks: { display: false },
            grid: { display: false, drawTicks: false }, border: { display: true, color: '#000', width: 2 } },
        },
      },
      plugins: [plugin],
    }),
  };
}

// ================= Panel e chart =================
function specE(): Spec {
  const cx = 400, cy = 540, cw = 403, ch = 480;
  const area = { l: 486, t: 550.3, r: 781.7, b: 995 };
  const f = frame(cx, cy, cw, ch, area);
  const pts: any[] = [];
  tePts.forEach((arr, i) => arr.forEach((v) => pts.push({ x: v, y: teGenes[i] })));
  const plugin = {
    id: 'panelE',
    afterDatasetDraw(chart: any, args: any) {
      if (args.index !== 1) return;
      const { ctx, chartArea: a, scales: { x, y } } = chart;
      ctx.save();
      const x0 = x.getPixelForValue(0);
      ctx.strokeStyle = '#000'; ctx.lineWidth = 1;
      ctx.beginPath(); ctx.moveTo(x0, a.top); ctx.lineTo(x0, a.bottom); ctx.stroke();
      ctx.lineWidth = 1.4; ctx.strokeStyle = '#111';
      teGenes.forEach((g, i) => {
        const yy = y.getPixelForValue(i);
        const lo = x.getPixelForValue(teErrLo[i]), hi = x.getPixelForValue(teErrHi[i]);
        ctx.beginPath();
        ctx.moveTo(lo, yy); ctx.lineTo(hi, yy);
        ctx.moveTo(lo, yy - 3.5); ctx.lineTo(lo, yy + 3.5);
        ctx.moveTo(hi, yy - 3.5); ctx.lineTo(hi, yy + 3.5);
        ctx.stroke();
      });
      ctx.restore();
    },
    afterDatasetsDraw(chart: any) {
      const { ctx, chartArea: a, scales: { x, y } } = chart;
      ctx.save();
      ctx.textBaseline = 'middle';
      ctx.textAlign = 'center';
      teGenes.forEach((g, i) => {
        const yy = y.getPixelForValue(i);
        if (teSig[i] !== 'ns') {
          ctx.fillStyle = '#111'; ctx.font = `12px ${FONT}`;
          if (teSig[i] === 'dec') {
            const ext = Math.min(teErrLo[i], ...tePts[i]);
            ctx.fillText('*', x.getPixelForValue(ext) - 9, yy + 2);
          } else {
            const ext = Math.max(teErrHi[i], ...tePts[i]);
            ctx.fillText('*', x.getPixelForValue(ext) + 10, yy + 2);
          }
        }
        ctx.fillStyle = '#1a1a1a'; ctx.font = `10px ${FONT}`;
        ctx.fillText(teP[i], a.right - 15, yy);
      });
      ctx.restore();
    },
  };
  return {
    x: cx, y: cy, w: cw, h: ch,
    make: () => ({
      type: 'bar',
      data: {
        labels: teGenes,
        datasets: [
          { type: 'scatter', data: pts, pointRadius: 2.4, pointBackgroundColor: '#fff', pointBorderColor: '#111', pointBorderWidth: 1.1, clip: false },
          { type: 'bar', data: teMean, backgroundColor: teSig.map((s) => SIG_COLOR[s]), barPercentage: 0.9, categoryPercentage: 1, borderWidth: 0 },
        ],
      },
      options: {
        ...baseOpts(f.padding),
        indexAxis: 'y',
        scales: {
          x: { type: 'linear', min: -9.297, max: 6.686, afterFit: f.fitX, afterBuildTicks: fixTicks(teXTicks),
            ticks: { autoSkip: false, minRotation: 90, maxRotation: 90, color: AX, font: { family: FONT, size: 11 }, padding: 4 },
            grid: { drawOnChartArea: false, drawTicks: true, tickLength: 3, color: '#333' },
            border: { display: true, color: '#111', width: 1.5 } },
          y: { type: 'category', offset: true, afterFit: f.fitY,
            ticks: { autoSkip: false, color: AX, font: { family: FONT, size: 12 }, padding: 3 },
            grid: { offset: false, drawOnChartArea: false, drawTicks: true, tickLength: 5, color: '#333' },
            border: { display: true, color: '#111', width: 1.5 } },
        },
      },
      plugins: [plugin],
    }),
  };
}

// ================= Canvas wrapper =================
function ChartBox({ spec }: { spec: Spec }) {
  const ref = useRef<HTMLCanvasElement | null>(null);
  useEffect(() => {
    const chart = new Chart(ref.current as HTMLCanvasElement, spec.make());
    return () => chart.destroy();
  }, []);
  return (
    <canvas ref={ref} width={spec.w} height={spec.h}
      style={{ position: 'absolute', left: spec.x, top: spec.y, width: spec.w, height: spec.h }} />
  );
}

// ================= Schematics & free text (SVG) =================
const repA = [['Prom', 128.3, 162.3], ['', 162.3, 170.7], ['RLuc', 170.7, 205.7], ['', 205.7, 215], ['Insert', 215, 250.7],
  ['', 250.7, 260], ['FLuc', 260, 289.3], ['', 289.3, 297.7], ['polyA', 297.7, 333.3]];
const repDL = [['Prom', 417, 440], ['', 440, 446], ['RLuc', 446, 470], ['', 470, 475], ['Insert', 475, 504], ['', 504, 511],
  ['FLuc', 511, 528], ['', 528, 532], ['polyA', 532, 566]];
const repDR = [['Prom', 627, 648], ['', 648, 652], ['Insert', 652, 679], ['', 679, 684], ['Rluc', 684, 710], ['', 710, 715],
  ['IRES', 715, 740], ['', 740, 745], ['Fluc', 745, 763], ['', 763, 767], ['polyA', 767, 797]];

function Reporter({ segs, y, h, fs, base }: any) {
  return (
    <g>
      {segs.map((s: any, i: number) => (
        <g key={i}>
          <rect x={s[1]} y={y} width={s[2] - s[1]} height={h} fill={s[0] ? '#000' : '#a3a3a3'} />
          {s[0] ? <text x={(s[1] + s[2]) / 2} y={base} fontSize={fs} fontWeight="bold" fill="#fff" textAnchor="middle">{s[0]}</text> : null}
        </g>
      ))}
    </g>
  );
}

function Overlay() {
  const colX = [188.7, 226.2, 263.6, 301.1];
  return (
    <svg width={803} height={1050} style={{ position: 'absolute', left: 0, top: 0, pointerEvents: 'none' }} fontFamily={FONT}>
      <defs>
        <linearGradient id="gradZ" x1="0" y1="1" x2="0" y2="0">
          {MAGMA.map((c, i) => <stop key={i} offset={i / 10} stopColor={c} />)}
        </linearGradient>
        <linearGradient id="gradFdr" x1="1" y1="0" x2="0" y2="0">
          {MAGMA.map((c, i) => <stop key={i} offset={i / 10} stopColor={c} />)}
        </linearGradient>
        <linearGradient id="trap" x1="0" y1="0" x2="0" y2="1">
          <stop offset="0" stopColor="#e4e4e4" />
          <stop offset="1" stopColor="#a8a8a8" />
        </linearGradient>
      </defs>

      {/* panel letters */}
      <text x={3} y={17} fontSize={17} fontWeight="bold">a</text>
      <text x={3} y={381} fontSize={17} fontWeight="bold">b</text>
      <text x={3} y={883} fontSize={17} fontWeight="bold">c</text>
      <text x={412} y={20} fontSize={17} fontWeight="bold">d</text>
      <text x={413} y={535} fontSize={17} fontWeight="bold">e</text>

      {/* ---- panel a schematic ---- */}
      <text x={208} y={14.5} fontSize={11.7} fontWeight="bold" textAnchor="middle">Hyperconserved 5'UTR</text>
      <polygon points="118.3,33.7 293,33.7 250.7,71.7 215,71.7" fill="url(#trap)" />
      <rect x={118.3} y={19} width={179.4} height={14.7} fill="#000" />
      <rect x={187.3} y={19} width={88} height={14.7} fill="#1b6cf2" />
      <text x={231.3} y={30.3} fontSize={9} fontWeight="bold" fill="#fff" textAnchor="middle">HCE</text>
      <rect x={297.7} y={13.3} width={70} height={25} fill="#a8a8a8" stroke="#555" strokeWidth={1} />
      <text x={332.7} y={29.3} fontSize={9} fontWeight="bold" fill="#fff" textAnchor="middle">CDS</text>
      <text x={221.7} y={57} fontSize={12} fontWeight="bold" textAnchor="middle">Intercistronic insert</text>
      <text x={121.7} y={84.5} fontSize={9.5} fontWeight="bold" textAnchor="end">Bicistronic reporter</text>
      <Reporter segs={repA} y={71.7} h={16.6} fs={9.5} base={83.3} />

      {/* ---- panel a legend & labels ---- */}
      <text x={82.5} y={143} fontSize={9.2} textAnchor="middle" fill="#222">10%</text>
      <text x={115.8} y={141.5} fontSize={10.5} textAnchor="middle" fill="#222">FDR</text>
      <text x={148.7} y={143} fontSize={9.2} textAnchor="middle" fill="#222">100%</text>
      <rect x={72.7} y={148.3} width={74.6} height={14} fill="url(#gradFdr)" />
      <line x1={80.7} y1={144.3} x2={80.7} y2={149} stroke="#222" strokeWidth={0.8} />
      <line x1={147.3} y1={144.3} x2={147.3} y2={149} stroke="#222" strokeWidth={0.8} />
      <text x={73} y={216} fontSize={13} fill="#222">10%</text>
      <text transform="translate(15.5,225) rotate(-90)" fontSize={14.5} textAnchor="middle">Bicistronic reporter activity</text>
      <text transform="translate(30.5,225) rotate(-90)" fontSize={14.5} textAnchor="middle">log2(Fluc/Rluc)</text>
      <text x={218} y={348} fontSize={12.7} textAnchor="middle">Rank order of bicistronic reporter activity</text>

      {/* ---- panel b legend & column labels ---- */}
      <text x={43} y={463} fontSize={13.5} fill="#222">Z-score</text>
      <rect x={36.7} y={480.4} width={26} height={135.2} fill="url(#gradZ)" />
      {zLegendTicks.map((z, i) => {
        const yy = 548 - z * 52.8;
        return (
          <g key={i}>
            <line x1={36.7} y1={yy} x2={40.7} y2={yy} stroke="#fff" strokeWidth={0.8} />
            <line x1={58.7} y1={yy} x2={62.7} y2={yy} stroke="#fff" strokeWidth={0.8} />
            <text x={73} y={yy + 4.5} fontSize={13} fill={AX}>{z === 0 ? '0.0' : (z < 0 ? '\u2212' : '') + Math.abs(z).toFixed(1)}</text>
          </g>
        );
      })}
      {cellTypes.slice(0, 4).map((c, i) => (
        <text key={i} transform={`translate(${colX[i] + 5},766.5) rotate(-90)`} fontSize={13.2} fill={AX} textAnchor="end">{c}</text>
      ))}
      <text transform="translate(329.6,766.5) rotate(-90)" fontSize={13.2} fill={AX} textAnchor="end">Limb bud</text>
      <text transform="translate(343.6,766.5) rotate(-90)" fontSize={13.2} fill={AX} textAnchor="end">mesenchyme</text>
      <text transform="translate(357.6,766.5) rotate(-90)" fontSize={13.2} fill={AX} textAnchor="end">culture</text>

      {/* ---- panel c annotations ---- */}
      <path d="M308,901 L370,901 L370,957 L362,957" fill="none" stroke="#333" strokeWidth={1.2} />
      <text x={349} y={930} fontSize={10.5} fontWeight="bold" textAnchor="middle">p=0.015</text>
      <text x={253} y={1019} fontSize={14} textAnchor="middle">Bicistronic reporter activity</text>
      <text x={240} y={1037} fontSize={14} textAnchor="middle">log2(Fluc/Rluc)</text>

      {/* ---- panel d schematic ---- */}
      <text x={575.8} y={15.5} fontSize={7} fontWeight="bold" textAnchor="middle">Hyperconserved 5'UTR</text>
      <text x={495} y={30.5} fontSize={8.5} textAnchor="end">WT</text>
      <polygon points="499,88 638,88 505,128 474,128" fill="url(#trap)" opacity={0.75} />
      <polygon points="499,88 638,88 679,128 652,128" fill="url(#trap)" opacity={0.75} />
      <rect x={499} y={22} width={139} height={10} fill="#000" />
      <rect x={553} y={22} width={68} height={10} fill="#1b6cf2" />
      <text x={587} y={30} fontSize={7} fontWeight="bold" fill="#fff" textAnchor="middle">HCE</text>
      <rect x={638} y={14} width={54} height={23} fill="#a8a8a8" stroke="#555" strokeWidth={0.8} />
      <text x={665} y={28} fontSize={7} fontWeight="bold" fill="#fff" textAnchor="middle">CDS</text>
      <rect x={499} y={50} width={54} height={10} fill="#000" />
      <rect x={553} y={50} width={28} height={10} fill="#1b6cf2" stroke="#000" strokeWidth={0.5} />
      <line x1={581} y1={55} x2={638} y2={55} stroke="#111" strokeWidth={1} strokeDasharray="3,2" />
      <rect x={638} y={43} width={54} height={21} fill="#a8a8a8" stroke="#555" strokeWidth={0.8} />
      <text x={665} y={56.5} fontSize={7} fontWeight="bold" fill="#fff" textAnchor="middle">CDS</text>
      <line x1={500} y1={78} x2={500} y2={86} stroke="#111" strokeWidth={1} />
      <line x1={500} y1={82} x2={606} y2={82} stroke="#111" strokeWidth={1} strokeDasharray="3,2" />
      <rect x={606} y={77} width={15} height={10} fill="#1b6cf2" stroke="#000" strokeWidth={0.5} />
      <rect x={621} y={77} width={17} height={10} fill="#000" />
      <rect x={638} y={72} width={54} height={20} fill="#a8a8a8" stroke="#555" strokeWidth={0.8} />
      <text x={665} y={84.5} fontSize={7} fontWeight="bold" fill="#fff" textAnchor="middle">CDS</text>
      <text x={489} y={71} fontSize={8.3} textAnchor="end" fill="#222">Truncations</text>
      <line x1={493} y1={50} x2={493} y2={87} stroke="#222" strokeWidth={1} />
      <text x={515.2} y={114.3} fontSize={9} fontWeight="bold" textAnchor="middle">Intercistronic insert</text>
      <text x={627.2} y={114.3} fontSize={9} fontWeight="bold" textAnchor="middle">Upstream insert</text>
      <Reporter segs={repDL} y={128} h={11} fs={7} base={136.3} />
      <Reporter segs={repDR} y={128} h={11} fs={7} base={136.3} />
      <path d="M493,140 L493,155 L548,155" fill="none" stroke="#222" strokeWidth={0.9} />
      <polygon points="548,152.5 554,155 548,157.5" fill="#222" />
      <path d="M671,140 L671,155 L677,155" fill="none" stroke="#222" strokeWidth={0.9} />
      <polygon points="677,152.5 683,155 677,157.5" fill="#222" />
      <text x={599.2} y={159} fontSize={8.4} fontWeight="bold" textAnchor="middle">Non-canonical initiation</text>
      <text x={599.2} y={169} fontSize={8.4} fontWeight="bold" textAnchor="middle">efficiency</text>
      <text x={713.3} y={159} fontSize={8.4} fontWeight="bold" textAnchor="middle">Translation</text>
      <text x={713.3} y={169} fontSize={8.4} fontWeight="bold" textAnchor="middle">efficiency</text>
      <line x1={598} y1={180} x2={598} y2={202} stroke="#111" strokeWidth={1.2} />
      <polygon points="595,201 601,201 598,208" fill="#111" />
      <line x1={718} y1={180} x2={718} y2={202} stroke="#111" strokeWidth={1.2} />
      <polygon points="715,201 721,201 718,208" fill="#111" />

      {/* ---- panel d labels ---- */}
      <text x={525.8} y={229} fontSize={20} textAnchor="middle" fill="#111">AUG</text>
      <text x={623} y={228.5} fontSize={15} textAnchor="middle" fill="#111">n</text>
      <text x={645} y={228.5} fontSize={15} textAnchor="middle" fill="#111">p</text>
      <text x={767} y={228.5} fontSize={15} textAnchor="middle" fill="#111">n</text>
      <text x={783} y={228.5} fontSize={15} textAnchor="middle" fill="#111">p</text>
      <text x={415} y={225.3} fontSize={12} fill="#111">{dGroups[0].gene}</text>
      <text x={415} y={334} fontSize={12} fill="#111">{dGroups[1].gene}</text>
      <text x={415} y={438} fontSize={12} fill="#111">{dGroups[2].gene}</text>
      <text x={477} y={515} fontSize={11} textAnchor="middle" fill="#111">5'UTR truncations</text>
      <text x={600} y={508} fontSize={11.5} textAnchor="middle" fill="#111">Fluc/Rluc</text>
      <text x={600} y={522} fontSize={11.5} textAnchor="middle" fill="#111">relative to WT</text>
      <text x={738} y={508} fontSize={11.5} textAnchor="middle" fill="#111">Rluc/Fluc</text>
      <text x={738} y={522} fontSize={11.5} textAnchor="middle" fill="#111">relative to WT</text>

      {/* ---- panel e annotations ---- */}
      <text x={768} y={542} fontSize={14} textAnchor="middle" fill="#111">p</text>
      <rect x={494} y={931} width={22} height={22} fill={SIG_COLOR.dec} stroke="#ddd" strokeWidth={0.5} />
      <rect x={494} y={956} width={22} height={22} fill={SIG_COLOR.inc} stroke="#ddd" strokeWidth={0.5} />
      <text x={526} y={947} fontSize={13} fill="#1a1a1a">Decreasing, p&lt;0.05</text>
      <text x={526} y={971} fontSize={13} fill="#1a1a1a">Increasing, p&lt;0.05</text>
      <text x={633} y={1029} fontSize={15.5} textAnchor="middle">Change in translation effciency</text>
      <text x={633} y={1045} fontSize={15.5} textAnchor="middle">{'\u0394log2(Rluc/Fluc)truncated-FL'}</text>
    </svg>
  );
}

const SPECS: Spec[] = [
  specA(),
  specB(),
  specC(),
  ...dGroups.map((g) => truncSpec(g)),
  ...dGroups.map((g) => valSpec(g.fluc, COL_FLUC, g, g.flucPx, 39, 31.7, g.hundred)),
  ...dGroups.map((g) => valSpec(g.rluc, COL_RLUC, g, g.rlucPx, 26.3, 21.3, '100%')),
  specE(),
];

export default function App() {
  useEffect(() => {
    document.body.style.margin = '0';
  }, []);
  return (
    <div style={{ position: 'absolute', left: 0, top: 0, width: 803, height: 1050, background: '#fff', overflow: 'hidden', fontFamily: FONT }}>
      {SPECS.map((s, i) => <ChartBox key={i} spec={s} />)}
      <Overlay />
    </div>
  );
}
